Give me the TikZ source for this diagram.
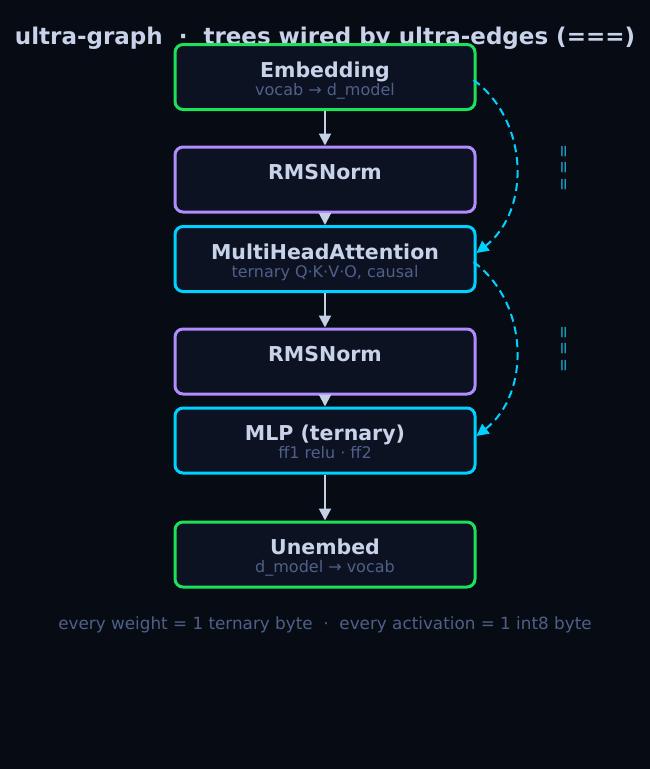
\documentclass[tikz,border=0pt]{standalone}
\usepackage{fontspec}
\setmainfont{DejaVu Sans}
\usetikzlibrary{arrows.meta}
\definecolor{bg}{HTML}{070B14}
\definecolor{boxfill}{HTML}{0C1222}
\definecolor{cgreen}{HTML}{1EE05A}
\definecolor{cpurple}{HTML}{B08CFF}
\definecolor{ccyan}{HTML}{00D2FF}
\definecolor{txtmain}{HTML}{C8D3EA}
\definecolor{txtsub}{HTML}{4F6088}
\definecolor{eqcol}{HTML}{1FA8CC}
\definecolor{flow}{HTML}{C4D0E6}
\tikzset{
  blk/.style={draw, line width=3pt, fill=boxfill, rounded corners=8pt,
    minimum width=300pt, minimum height=65pt, inner sep=0pt, align=center,
    text height=36pt, text depth=0pt,
    text=txtmain, font=\fontsize{16}{18}\selectfont},
  flowarrow/.style={draw=flow, line width=2pt, -{Triangle[length=12pt,width=12pt]}},
  ultraedge/.style={draw=ccyan, line width=2pt, dash pattern=on 8pt off 5pt,
    -{Triangle[length=12pt,width=12pt]}},
  eqlabel/.style={text=eqcol, rotate=90, font=\fontsize{16.5}{16}\selectfont, inner sep=0pt},
}
\newcommand{\ttl}[1]{{\fontsize{20.5}{18}\selectfont\bfseries #1}}
\newcommand{\sbt}[1]{{\color{txtsub}#1}}
\newcommand{\tripleeq}{=\kern2.4pt=\kern2.4pt=}
\begin{document}
\begin{tikzpicture}[x=1pt,y=-1pt]
\fill[bg] (0,0) rectangle (650,769);
\useasboundingbox (0,0) rectangle (650,769);

\node[text=txtmain, font=\fontsize{23}{26}\selectfont\bfseries, anchor=base] (title) at (325,44)
  {ultra-graph\ \ ·\ \ trees wired by ultra-edges (===)};

\node[blk, draw=cgreen] (emb) at (325,77) {\ttl{Embedding}\\\sbt{vocab → d\_model}};
\node[blk, draw=cpurple] (rms1) at (325,179.5) {\ttl{RMSNorm}\\\phantom{vocab}};
\node[blk, draw=ccyan] (mha) at (325,259) {\ttl{MultiHeadAttention}\\\sbt{ternary Q·K·V·O, causal}};
\node[blk, draw=cpurple] (rms2) at (325,361.5) {\ttl{RMSNorm}\\\phantom{vocab}};
\node[blk, draw=ccyan] (mlp) at (325,440.5) {\ttl{MLP (ternary)}\\\sbt{ff1 relu · ff2}};
\node[blk, draw=cgreen] (unemb) at (325,554.5) {\ttl{Unembed}\\\sbt{d\_model → vocab}};

\draw[flowarrow] (emb.south) -- (rms1.north);
\draw[flowarrow] (rms1.south) -- (mha.north);
\draw[flowarrow] (mha.south) -- (rms2.north);
\draw[flowarrow] (rms2.south) -- (mlp.north);
\draw[flowarrow] (mlp.south) -- (unemb.north);

\draw[ultraedge] ([xshift=-3pt,yshift=-3pt]emb.east) .. controls +(55,40) and +(55,-43) .. ([yshift=6pt]mha.east);
\draw[ultraedge] ([xshift=-3pt,yshift=-3pt]mha.east) .. controls +(55,40) and +(55,-43) .. ([yshift=4.5pt]mlp.east);

\node[eqlabel] (eq1) at (565,168) {\tripleeq};
\node[eqlabel] (eq2) at (565,349) {\tripleeq};

\node[text=txtsub, font=\fontsize{16.8}{19}\selectfont, anchor=base] (foot) at (325,629)
  {every weight = 1 ternary byte\ \ ·\ \ every activation = 1 int8 byte};
\end{tikzpicture}
\end{document}
